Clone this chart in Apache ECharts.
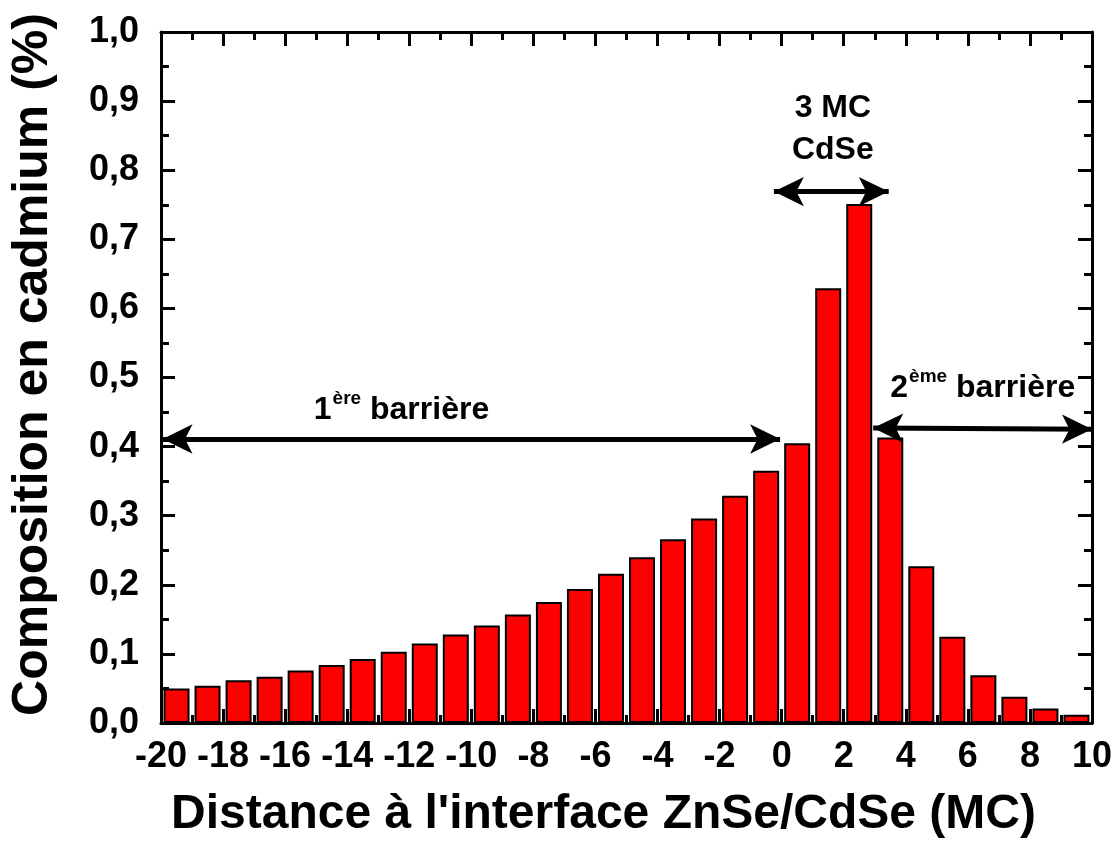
<!DOCTYPE html>
<html>
<head>
<meta charset="utf-8">
<script src="https://cdn.jsdelivr.net/npm/echarts@6/dist/echarts.min.js"></script>
<style>
html,body{margin:0;padding:0;background:#fff;}
#chart{width:1115px;height:844px;}
</style>
</head>
<body>
<div id="chart"></div>
<script>
// Data
const distanceMC = [-19.5,-18.5,-17.5,-16.5,-15.5,-14.5,-13.5,-12.5,-11.5,-10.5,-9.5,-8.5,-7.5,-6.5,-5.5,-4.5,-3.5,-2.5,-1.5,-0.5,0.5,1.5,2.5,3.5,4.5,5.5,6.5,7.5,8.5,9.5];
const cdComposition = [0.050,0.054,0.062,0.067,0.076,0.084,0.0925,0.103,0.115,0.128,0.141,0.157,0.175,0.194,0.216,0.240,0.266,0.296,0.329,0.365,0.405,0.629,0.751,0.413,0.227,0.125,0.069,0.038,0.021,0.012];
const xTicks = {min:-20, max:10, interval:2};
const yTicks = {min:0, max:1, interval:0.1};
const xTitle = "Distance à l'interface ZnSe/CdSe (MC)";
const yTitle = "Composition en cadmium (%)";

// Annotation arrows (data coordinates) and labels
const arrows = [
  [[-19.95, 0.411], [-0.05, 0.411]],
  [[2.95, 0.427], [10.0, 0.425]],
  [[-0.25, 0.769], [3.45, 0.769]]
];
const labels = [
  {x:-12.25, y:0.452, text:'{n|1}{s|ère}{n| barrière}'},
  {x:6.48, y:0.485, text:'{n|2}{s|ème}{n| barrière}'},
  {x:1.65, y:0.86, text:'{n|3 MC}\n{n|CdSe}'}
];

const FONT = "'Liberation Sans', Arial, sans-serif";
const barData = distanceMC.map((x,i)=>[x, cdComposition[i]]);

const axisLine = {show:true, onZero:false, lineStyle:{color:'#000', width:3}};
const axisTick = {show:true, inside:true, length:14, lineStyle:{color:'#000', width:3}};
const minorTick = {show:true, splitNumber:2, length:8, lineStyle:{color:'#000', width:3}};

const chart = echarts.init(document.getElementById('chart'), null, {renderer:'canvas'});
const option = {
  backgroundColor:'#fff',
  animation:false,
  grid:{left:155, right:23, top:32, bottom:118, containLabel:false},
  xAxis:[{
    type:'value', position:'bottom', min:xTicks.min, max:xTicks.max, interval:xTicks.interval,
    axisLine:axisLine, axisTick:axisTick, minorTick:minorTick, splitLine:{show:false},
    axisLabel:{show:true, margin:16, color:'#000', fontFamily:FONT, fontWeight:'bold', fontSize:36},
    name:xTitle, nameLocation:'middle', nameGap:68,
    nameTextStyle:{color:'#000', fontFamily:FONT, fontWeight:'bold', fontSize:48, padding:[0,46,0,0]}
  },{
    type:'value', position:'top', min:xTicks.min, max:xTicks.max, interval:xTicks.interval,
    axisLine:axisLine, axisTick:axisTick, minorTick:minorTick, splitLine:{show:false},
    axisLabel:{show:false}
  }],
  yAxis:[{
    type:'value', position:'left', min:yTicks.min, max:yTicks.max, interval:yTicks.interval,
    axisLine:axisLine, axisTick:axisTick, minorTick:minorTick, splitLine:{show:false},
    axisLabel:{show:true, margin:22, color:'#000', fontFamily:FONT, fontWeight:'bold', fontSize:36,
      formatter:v=>v.toFixed(1).replace('.',',')},
    name:yTitle, nameLocation:'middle', nameGap:103,
    nameTextStyle:{color:'#000', fontFamily:FONT, fontWeight:'bold', fontSize:50, padding:[0,0,0,26]}
  },{
    type:'value', position:'right', min:yTicks.min, max:yTicks.max, interval:yTicks.interval,
    axisLine:axisLine, axisTick:axisTick, minorTick:minorTick, splitLine:{show:false},
    axisLabel:{show:false}
  }],
  series:[{
    type:'bar', xAxisIndex:0, yAxisIndex:0, data:barData, barWidth:26,
    itemStyle:{color:'#ff0000', borderColor:'#000', borderWidth:2},
    z:3
  },{
    type:'scatter', xAxisIndex:0, yAxisIndex:0, symbolSize:0, clip:false, z:5,
    data:labels.map(l=>({value:[l.x,l.y], text:l.text})),
    label:{show:true, position:'inside', formatter:p=>p.data.text, color:'#000',
      textBorderWidth:0, opacity:1,
      fontFamily:FONT, fontWeight:'bold', lineHeight:42,
      rich:{
        n:{fontFamily:FONT, fontWeight:'bold', fontSize:32, color:'#000', textBorderWidth:0, lineHeight:42},
        s:{fontFamily:FONT, fontWeight:'bold', fontSize:19, color:'#000', textBorderWidth:0, verticalAlign:'top', lineHeight:30, padding:[0,0,0,1]}
      }},
    markLine:{
      silent:true, symbol:['arrow','arrow'], symbolSize:[22,30], precision:4,
      label:{show:false},
      lineStyle:{color:'#000', width:5, type:'solid', opacity:1},
      emphasis:{disabled:true},
      data:arrows.map(a=>[{coord:a[0]},{coord:a[1]}])
    }
  }]
};
chart.setOption(option);
</script>
</body>
</html>
